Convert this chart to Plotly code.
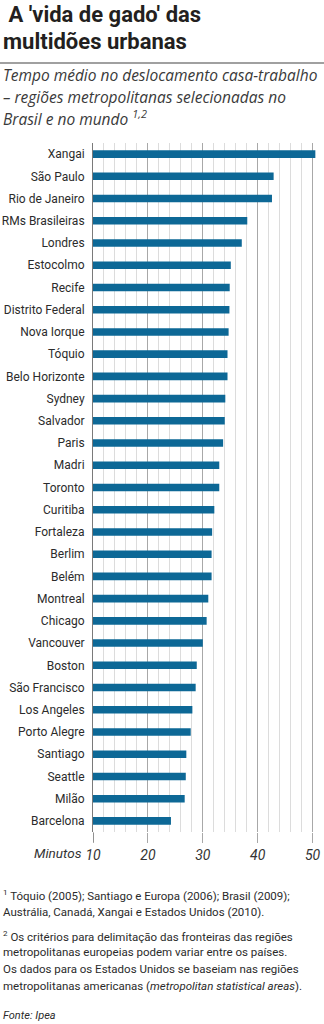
import plotly.graph_objects as go

categories = ["Xangai", "São Paulo", "Rio de Janeiro", "RMs Brasileiras", "Londres",
              "Estocolmo", "Recife", "Distrito Federal", "Nova Iorque", "Tóquio",
              "Belo Horizonte", "Sydney", "Salvador", "Paris", "Madri", "Toronto",
              "Curitiba", "Fortaleza", "Berlim", "Belém", "Montreal", "Chicago",
              "Vancouver", "Boston", "São Francisco", "Los Angeles", "Porto Alegre",
              "Santiago", "Seattle", "Milão", "Barcelona"]
minutes = [50.5, 42.9, 42.6, 38.1, 37.1, 35.1, 34.9, 34.85, 34.7, 34.5,
           34.5, 34.1, 34.0, 33.7, 33.0, 33.0, 32.1, 31.7, 31.6, 31.6,
           31.0, 30.7, 30.0, 28.9, 28.7, 28.1, 27.8, 27.0, 26.9, 26.7, 24.2]
tick_values = [10, 20, 30, 40, 50]

title_lines = [" A 'vida de gado' das", "multidões urbanas"]
subtitle_lines = ["Tempo médio no deslocamento casa-trabalho",
                  "– regiões metropolitanas selecionadas no",
                  "Brasil e no mundo <sup>1,2</sup>"]
footnote_lines = ["<sup>1</sup> Tóquio (2005); Santiago e Europa (2006); Brasil (2009);",
                  "Austrália, Canadá, Xangai e Estados Unidos (2010).",
                  "<sup>2</sup> Os critérios para delimitação das fronteiras das regiões",
                  "metropolitanas europeias podem variar entre os países.",
                  "Os dados para os Estados Unidos se baseiam nas regiões",
                  "metropolitanas americanas (<i>metropolitan statistical areas</i>)."]
source = "<i>Fonte: Ipea</i>"

W, H = 324, 1024
L, R, T, B = 93, 7, 143, 192
PW, PH = W - L - R, H - T - B

def px(x):
    return (x - L) / PW

def py(y):
    return (H - B - y) / PH

NARROW = "Roboto, sans-serif"
BLUE = "#0d6896"

fig = go.Figure()
fig.add_trace(go.Bar(
    x=minutes, y=categories, orientation="h", base=0,
    marker=dict(color=BLUE, line=dict(width=0)), width=0.34,
    hoverinfo="x+y",
))

fig.update_layout(
    width=W, height=H, template="none",
    margin=dict(l=L, r=R, t=T, b=B, autoexpand=False),
    paper_bgcolor="white", plot_bgcolor="white",
    showlegend=False, bargap=0.66,
    xaxis=dict(range=[10, 50.8], tickvals=tick_values, ticktext=[str(v) for v in tick_values],
               showgrid=True, gridcolor="#a8a8a8", gridwidth=1,
               minor=dict(dtick=2, tick0=10, showgrid=True, gridcolor="#dcdcdc", gridwidth=1),
               ticks="outside", ticklen=10, tickcolor="#a8a8a8", tickwidth=1,
               tickfont=dict(family=NARROW, size=14, color="#333333", style="italic"),
               zeroline=False, showline=False, automargin=False, fixedrange=True),
    yaxis=dict(categoryorder="array", categoryarray=categories, autorange="reversed",
               showgrid=False, showline=True, linecolor="#7a7a7a", linewidth=1,
               ticks="", ticklabelstandoff=5,
               tickfont=dict(family=NARROW, size=12, color="#2b2b2b"),
               automargin=False, fixedrange=True),
)

annotations = []
for i, t in enumerate(title_lines):
    annotations.append(dict(text="<b>" + t + "</b>", x=px(1), y=py([14.5, 41.5][i]),
                            xref="paper", yref="paper", xanchor="left", yanchor="middle",
                            showarrow=False,
                            font=dict(family="Roboto, sans-serif", size=22, color="#231f20")))
for i, t in enumerate(subtitle_lines):
    annotations.append(dict(text="<i>" + t + "</i>", x=px(1), y=py([75, 97, 118][i]),
                            xref="paper", yref="paper", xanchor="left", yanchor="middle",
                            showarrow=False,
                            font=dict(family="Open Sans, Roboto, sans-serif", size=15.5, color="#3a3a3a")))
annotations.append(dict(text="<i>Minutos</i>", x=px(58), y=py(853), xref="paper", yref="paper",
                        xanchor="center", yanchor="middle", showarrow=False,
                        font=dict(family=NARROW, size=13.5, color="#333333")))
for i, t in enumerate(footnote_lines):
    annotations.append(dict(text=t, x=px(1), y=py([895, 912, 936, 952, 969, 986][i]),
                            xref="paper", yref="paper", xanchor="left", yanchor="middle",
                            showarrow=False,
                            font=dict(family=NARROW, size=11.5, color="#2b2b2b")))
annotations.append(dict(text=source, x=px(1), y=py(1016), xref="paper", yref="paper",
                        xanchor="left", yanchor="middle", showarrow=False,
                        font=dict(family=NARROW, size=11, color="#2b2b2b")))
fig.update_layout(annotations=annotations)

fig.add_shape(type="line", xref="paper", yref="paper", x0=px(0), x1=px(W), y0=py(63), y1=py(63),
              line=dict(color="#a0a0a0", width=2))
fig.add_shape(type="line", xref="x", yref="paper", x0=10, x1=10, y0=0, y1=py(842),
              line=dict(color="#7a7a7a", width=1))

fig.write_html("out.html")
